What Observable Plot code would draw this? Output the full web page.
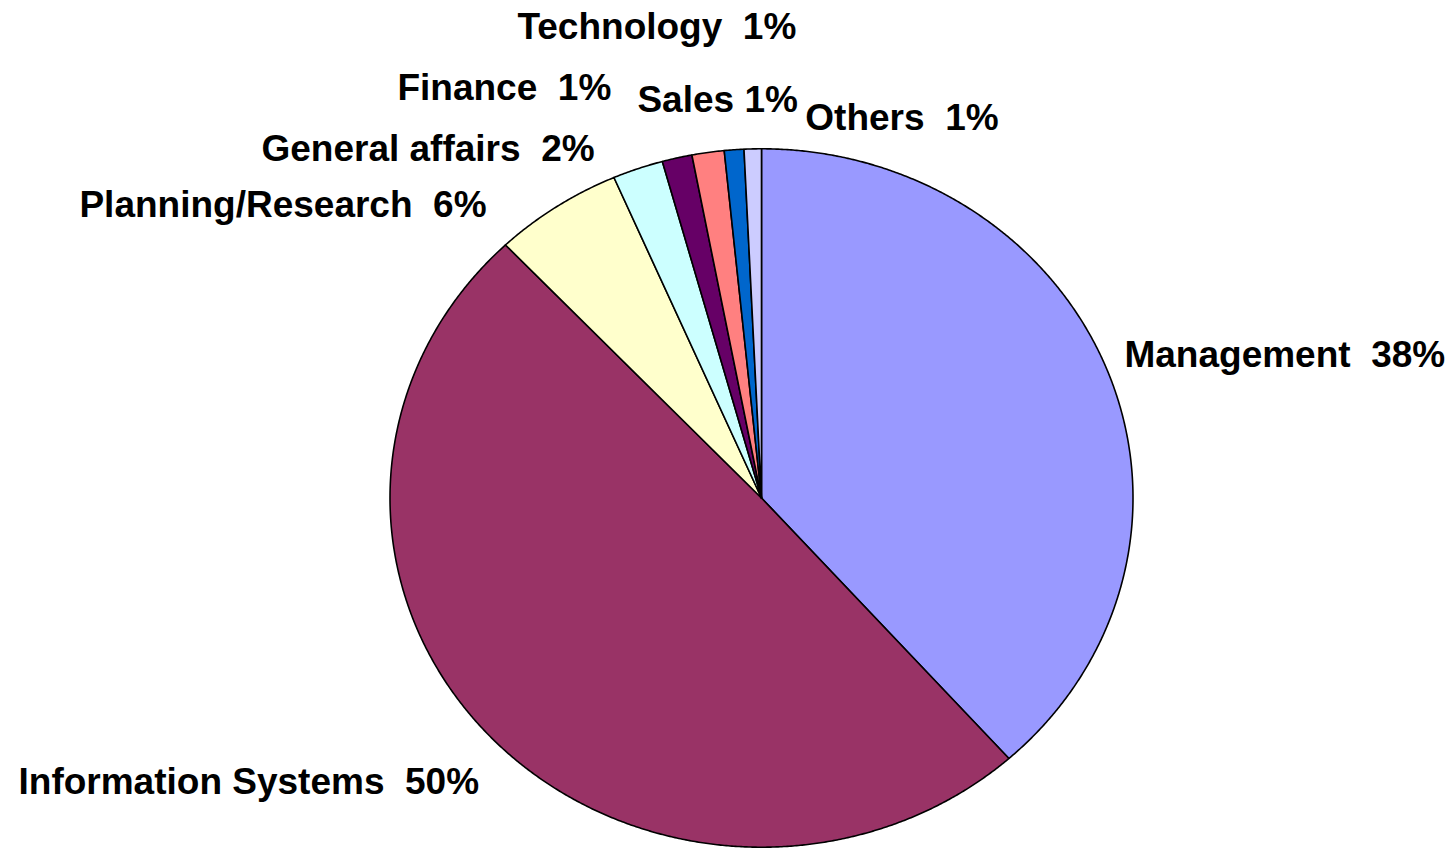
<!DOCTYPE html>
<html>
<head>
<meta charset="utf-8">
<script src="https://cdn.jsdelivr.net/npm/d3@7"></script>
<script src="https://cdn.jsdelivr.net/npm/@observablehq/plot@0.6"></script>
<style>
  html, body { margin: 0; padding: 0; background: #fff; overflow: hidden; }
  #chart svg { display: block; }
</style>
</head>
<body>
<div id="chart"></div>
<script>
// ---- data ----
const categories = ["Management", "Information Systems", "Planning/Research", "General affairs", "Finance", "Technology", "Sales", "Others"];
const shares = [38.4, 49.5, 5.6, 2.2, 1.3, 1.4, 0.85, 0.75];
const colors = ["#9999FF", "#993366", "#FFFFCC", "#CCFFFF", "#660066", "#FF8080", "#0066CC", "#CCCCFF"];
const separators = ["\u00A0 ", "\u00A0 ", "\u00A0 ", "\u00A0 ", "\u00A0 ", "\u00A0 ", " ", "\u00A0 "];

// ---- layout ----
const W = 1454, H = 849;
const cx = 761, cy = 497.5, rx = 371.5, ry = 349.2; // pie centre and radii in pixels
// label anchors (left edge, vertical middle) in pie-radius units
const labelX = [0.977, -2.0, -1.836, -1.346, -0.980, -0.657, -0.334, 0.118];
const labelY = [0.408, -0.815, 0.838, 1.0, 1.173, 1.347, 1.138, 1.087];

const total = d3.sum(shares);
const pie = d3.pie().sort(null).value(d => d)(shares);

const wedges = pie.map((p, i) => {
  const pts = [{x: 0, y: 0}];
  const n = Math.max(4, Math.ceil((p.endAngle - p.startAngle) / 0.005));
  for (let k = 0; k <= n; k++) {
    const a = p.startAngle + (p.endAngle - p.startAngle) * k / n;
    pts.push({x: Math.sin(a), y: Math.cos(a)});
  }
  pts.push({x: 0, y: 0});
  return pts;
});

const labels = categories.map((c, i) => ({
  text: `${c}${separators[i]}${Math.round(shares[i] / total * 100)}%`,
  x: labelX[i],
  y: labelY[i]
}));

const chart = Plot.plot({
  width: W,
  height: H,
  margin: 0,
  x: {domain: [(0 - cx) / rx, (W - cx) / rx], axis: null},
  y: {domain: [(cy - H) / ry, cy / ry], axis: null},
  marks: [
    ...wedges.map((pts, i) => Plot.line(pts, {
      x: "x", y: "y",
      fill: colors[i],
      stroke: "#000",
      strokeWidth: 1.6,
      strokeLinejoin: "round",
      curve: "linear-closed"
    })),
    Plot.text(labels, {
      x: "x", y: "y", text: "text",
      textAnchor: "start",
      fontSize: 37,
      fontWeight: "bold",
      fontFamily: "Liberation Sans, Arial, sans-serif",
      fill: "#000"
    })
  ]
});
document.getElementById("chart").appendChild(chart);
</script>
</body>
</html>
